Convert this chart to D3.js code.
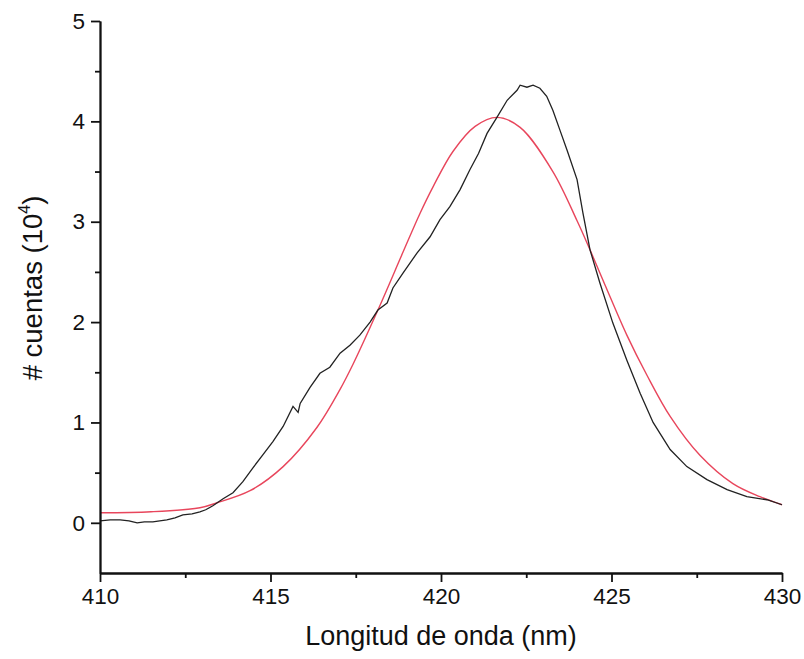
<!DOCTYPE html>
<html lang="es">

<head>
    <meta charset="UTF-8">
    <title>Espectro</title>
    <script src="https://d3js.org/d3.v7.min.js"></script>
    <style>
        body { margin: 0; background: #fff; }
        text { font-family: "Liberation Sans", Arial, sans-serif; fill: #111; }
    </style>
</head>

<body>
    <div id="chart"></div>
    <script>
        // wavelength (nm) / counts (10^4)
        const measWl = [410.00, 410.30, 410.59, 410.85, 411.09, 411.30, 411.55, 411.75, 411.96, 412.20,
            412.43, 412.70, 412.93, 413.10, 413.31, 413.61, 413.90,
            414.19, 414.49, 414.78, 415.07, 415.37, 415.66, 415.81, 415.87, 416.16, 416.45,
            416.74, 417.04, 417.33, 417.62, 417.92, 418.15, 418.42, 418.59, 418.89, 419.30,
            419.68, 419.97, 420.26, 420.56, 420.85, 421.10, 421.35, 421.64, 421.94, 422.23, 422.32,
            422.52, 422.70, 422.90, 423.10, 423.28, 423.49, 423.70, 423.99, 424.16, 424.37, 424.66,
            425.04, 425.45, 425.84, 426.22, 426.72, 427.21, 427.80, 428.39, 428.97, 429.56, 430.00];
        const measCounts = [0.02, 0.03, 0.03, 0.02, 0.00, 0.01, 0.01, 0.02, 0.03, 0.05,
            0.08, 0.09, 0.11, 0.13, 0.17, 0.24, 0.30,
            0.41, 0.55, 0.68, 0.81, 0.96, 1.16, 1.10, 1.19, 1.35, 1.49,
            1.55, 1.69, 1.77, 1.87, 2.00, 2.12, 2.19, 2.34, 2.49, 2.69,
            2.85, 3.02, 3.15, 3.32, 3.52, 3.68, 3.88, 4.04, 4.21, 4.31, 4.36,
            4.34, 4.36, 4.33, 4.25, 4.11, 3.91, 3.71, 3.42, 3.09, 2.72, 2.39,
            1.99, 1.62, 1.29, 1.00, 0.73, 0.56, 0.43, 0.33, 0.26, 0.23, 0.18];

        // fitted curve (red)
        const fitWl = [410.00, 411.50, 412.93, 413.43, 414.40, 415.37, 416.36, 417.04, 417.42, 418.15,
            418.89, 419.38, 419.77, 420.35, 421.00, 421.64, 422.32, 423.28, 423.99, 424.37,
            424.81, 425.45, 426.04, 426.72, 427.60, 428.56, 429.35, 430.00];
        const fitCounts = [0.10, 0.11, 0.15, 0.20, 0.32, 0.56, 0.95, 1.33, 1.58, 2.12,
            2.70, 3.08, 3.35, 3.70, 3.95, 4.04, 3.94, 3.50, 3.01, 2.72,
            2.37, 1.87, 1.47, 1.06, 0.67, 0.39, 0.26, 0.18];

        const xTicks = [410, 415, 420, 425, 430];
        const yTicks = [0, 1, 2, 3, 4, 5];

        const W = 804, H = 659;
        const margin = { top: 21, right: 22, bottom: 86, left: 100 };
        const width = W - margin.left - margin.right;
        const height = H - margin.top - margin.bottom;

        const x = d3.scaleLinear().domain([410, 430]).range([0, width]);
        const y = d3.scaleLinear().domain([-0.5, 5]).range([height, 0]);

        const svg = d3.select("#chart").append("svg")
            .attr("width", W)
            .attr("height", H)
            .append("g")
            .attr("transform", "translate(" + margin.left + "," + margin.top + ")");

        const meas = measWl.map((w, i) => ({ wl: w, c: measCounts[i] }));
        const fit = fitWl.map((w, i) => ({ wl: w, c: fitCounts[i] }));

        const fitLine = d3.line().x(d => x(d.wl)).y(d => y(d.c)).curve(d3.curveCatmullRom);
        const measLine = d3.line().x(d => x(d.wl)).y(d => y(d.c));

        svg.append("path")
            .datum(fit)
            .attr("fill", "none")
            .attr("stroke", "#e8465c")
            .attr("stroke-width", 1.4)
            .attr("d", fitLine);

        svg.append("path")
            .datum(meas)
            .attr("fill", "none")
            .attr("stroke", "#222")
            .attr("stroke-width", 1.3)
            .attr("d", measLine);

        // minor ticks halfway between majors
        const xMinor = [412.5, 417.5, 422.5, 427.5];
        const yMinor = [0.5, 1.5, 2.5, 3.5, 4.5];

        const xAxis = svg.append("g")
            .attr("transform", "translate(0," + height + ")");
        xAxis.call(d3.axisBottom(x).tickValues(xMinor).tickSize(5).tickSizeOuter(0).tickFormat(""));
        xAxis.append("g").call(d3.axisBottom(x).tickValues(xTicks).tickSize(9).tickSizeOuter(0).tickPadding(6).tickFormat(d3.format("d")));

        const yAxis = svg.append("g");
        yAxis.call(d3.axisLeft(y).tickValues(yMinor).tickSize(5).tickSizeOuter(0).tickFormat(""));
        yAxis.append("g").call(d3.axisLeft(y).tickValues(yTicks).tickSize(9).tickSizeOuter(0).tickPadding(6).tickFormat(d3.format("d")));

        svg.selectAll(".domain").attr("stroke", "#111").attr("stroke-width", 1.8);
        svg.selectAll(".tick line").attr("stroke", "#111").attr("stroke-width", 1.8);
        svg.selectAll(".tick text").attr("font-size", 22.5).attr("fill", "#111");

        svg.append("text")
            .attr("x", width / 2)
            .attr("y", height + 72)
            .attr("text-anchor", "middle")
            .attr("font-size", 27)
            .text("Longitud de onda (nm)");

        const yt = svg.append("text")
            .attr("transform", "translate(" + (42 - margin.left) + "," + (288 - margin.top) + ") rotate(-90)")
            .attr("text-anchor", "middle")
            .attr("font-size", 27.5);
        yt.append("tspan").text("# cuentas (10");
        yt.append("tspan").attr("font-size", 16).attr("dy", -12).text("4");
        yt.append("tspan").attr("dy", 12).text(")");
    </script>
</body>

</html>
